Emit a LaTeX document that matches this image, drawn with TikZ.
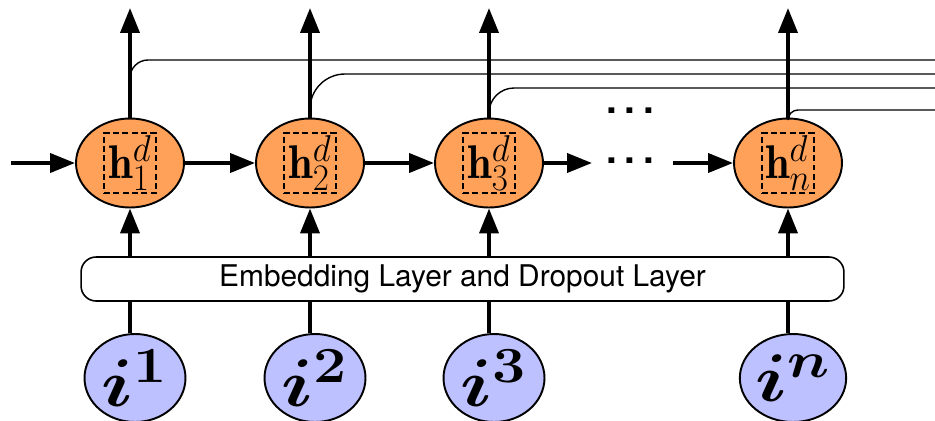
\RequirePackage{fix-cm}
\documentclass[tikz,border=0pt]{standalone}
\usepackage{fontspec}
\newfontfamily\heros{TeX Gyre Heros}
\usetikzlibrary{shapes, calc, arrows.meta}
\definecolor{cellorange}{RGB}{255,161,89}
\definecolor{inputblue}{RGB}{190,193,255}
\DeclareMathSizes{24}{24}{19}{15}
\DeclareMathSizes{32}{32}{24}{18}

\begin{document}
\begin{tikzpicture}[x=0.02cm, y=-0.02cm,
cell_style/.style={ellipse, fill=cellorange, draw=black, line width=1.1pt, minimum width=2.16cm, minimum height=1.78cm, inner sep=0pt},
label_style/.style={rectangle, draw=black, dash pattern=on 3.4pt off 1.9pt, line width=0.9pt, minimum width=1.04cm, minimum height=1.2cm, inner sep=0pt, font=\fontsize{24}{28}\selectfont},
input_style/.style={ellipse, fill=inputblue, draw=black, line width=1.1pt, minimum width=2.02cm, minimum height=1.76cm, inner sep=0pt, font=\fontsize{32}{38}\selectfont\boldmath},
layer_style/.style={rectangle, rounded corners=0.3cm, draw=black, line width=0.9pt, minimum width=15.26cm, minimum height=0.88cm, font=\fontsize{17}{20}\selectfont\heros},
arrow_style/.style={line width=2.2pt, -{Triangle[length=0.5cm, width=0.38cm]}},
line_style/.style={line width=2.2pt},
skip_style/.style={line width=0.8pt},
dots_style/.style={inner sep=0pt, font=\fontsize{22}{26}\selectfont\heros\bfseries},
]

\useasboundingbox (0,0) rectangle (935,420);

\node[layer_style] at (462.5,279) (layer) {Embedding Layer and Dropout Layer};

\foreach \col/\xpos/\skipy/\rad in {1/130/60/0.36cm, 2/310/74/0.7cm, 3/489/88/0.5cm, n/788/110/0.2cm}{
	\node[cell_style] at (\xpos,163) (h\col) {};
	\node[label_style] at (h\col) (hbox\col) {\scalebox{1.05}[1.12]{$\mathbf{h}^{d}_{\col}$}};
	\node[input_style] at (\xpos+5,378) (in\col) {\scalebox{1.4}[1.2]{$i^{\col}$}};
	\coordinate (out\col) at (\xpos,8);

	\draw[skip_style, rounded corners=\rad] (h\col.north) |- (935,\skipy);
	\draw[arrow_style] (h\col.north) -- (out\col);
	\draw[arrow_style] (h\col |- layer.north) -- (h\col.south);
	\draw[line_style] (h\col |- in\col.north) -- (h\col |- layer.south);
}

\coordinate (start) at (11,163);
\coordinate (gapleft) at (592,163);
\coordinate (gapright) at (673,163);

\draw[arrow_style] (start) -- (h1);
\draw[arrow_style] (h1) -- (h2);
\draw[arrow_style] (h2) -- (h3);
\draw[arrow_style] (h3) -- (gapleft);
\draw[arrow_style] (gapright) -- (hn);

\node[dots_style] at (630,161) (dotsmid) {.\hspace{0.2em}.\hspace{0.2em}.};
\node[dots_style] at (630,111) (dotstop) {.\hspace{0.2em}.\hspace{0.2em}.};

\end{tikzpicture}
\end{document}
